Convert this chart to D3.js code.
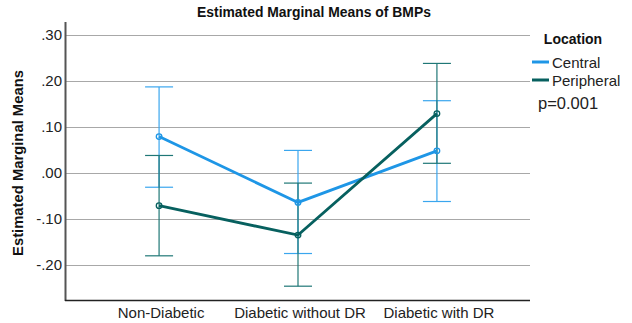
<!DOCTYPE html>
<html>
<head>
<meta charset="utf-8">
<script src="https://cdn.jsdelivr.net/npm/d3@7/dist/d3.min.js"></script>
<style>
  body { margin: 0; background: #fff; }
  svg { display: block; font-family: Arial, "Liberation Sans", sans-serif; }
</style>
</head>
<body>
<svg id="chart" width="632" height="323"></svg>
<script>
// Groups on the x axis
const groups = ["Non-Diabetic", "Diabetic without DR", "Diabetic with DR"];
// Series by location: estimated marginal means with 95% CI bounds
const seriesNames = ["Central", "Peripheral"];
const centralMean  = [0.079, -0.064, 0.048];
const centralLow   = [-0.031, -0.175, -0.062];
const centralHigh  = [0.187, 0.049, 0.157];
const periphMean   = [-0.071, -0.135, 0.129];
const periphLow    = [-0.180, -0.246, 0.021];
const periphHigh   = [0.038, -0.022, 0.238];
const yTicks = [-0.2, -0.1, 0.0, 0.1, 0.2, 0.3];
const yTickLabels = ["-.20", "-.10", ".00", ".10", ".20", ".30"];

const lineColors = ["#1e96e6", "#07605f"];
const barColors  = ["#3aa6ee", "#1f7776"];

const series = [
  { name: seriesNames[0], mean: centralMean, low: centralLow, high: centralHigh },
  { name: seriesNames[1], mean: periphMean, low: periphLow, high: periphHigh }
];

const svg = d3.select("#chart");
const plotLeft = 66, plotRight = 530, plotTop = 22, plotBottom = 300;

const x = d3.scalePoint().domain(groups).range([plotLeft, plotRight]).padding(0.67);
const y = d3.scaleLinear().domain([-0.276, 0.328]).range([plotBottom, plotTop]);

// horizontal gridlines
svg.append("g")
  .selectAll("line")
  .data(yTicks)
  .join("line")
  .attr("x1", plotLeft).attr("x2", plotRight)
  .attr("y1", d => Math.round(y(d)) + 0.5).attr("y2", d => Math.round(y(d)) + 0.5)
  .attr("stroke", "#a8a8a8").attr("stroke-width", 1);

// y axis
const yAxis = svg.append("g")
  .attr("transform", `translate(${plotLeft},0)`)
  .call(d3.axisLeft(y).tickValues(yTicks).tickFormat((d, i) => yTickLabels[i]).tickSize(0).tickPadding(4));
yAxis.select(".domain").remove();
yAxis.selectAll("text").attr("font-size", 15).attr("fill", "#222").attr("font-family", "Arial, 'Liberation Sans', sans-serif");

svg.append("line")
  .attr("x1", plotLeft - 0.5).attr("x2", plotLeft - 0.5).attr("y1", plotTop).attr("y2", plotBottom + 1)
  .attr("stroke", "#555").attr("stroke-width", 2);

// x axis
const xAxis = svg.append("g")
  .attr("transform", `translate(0,${plotBottom})`)
  .call(d3.axisBottom(x).tickSize(0).tickPadding(7));
xAxis.select(".domain").remove();
xAxis.selectAll("text").attr("font-size", 15).attr("fill", "#222").attr("font-family", "Arial, 'Liberation Sans', sans-serif")
  .attr("dx", 1.5);
svg.append("line")
  .attr("x1", plotLeft - 1).attr("x2", plotRight).attr("y1", plotBottom + 0.5).attr("y2", plotBottom + 0.5)
  .attr("stroke", "#222").attr("stroke-width", 1.5);

// error bars
const capHalf = 14;
series.forEach((s, si) => {
  const g = svg.append("g").attr("stroke", barColors[si]).attr("stroke-width", 1.2);
  groups.forEach((grp, i) => {
    const cx = x(grp);
    g.append("line").attr("x1", cx).attr("x2", cx).attr("y1", y(s.low[i])).attr("y2", y(s.high[i]));
    g.append("line").attr("x1", cx - capHalf).attr("x2", cx + capHalf).attr("y1", y(s.low[i])).attr("y2", y(s.low[i]));
    g.append("line").attr("x1", cx - capHalf).attr("x2", cx + capHalf).attr("y1", y(s.high[i])).attr("y2", y(s.high[i]));
  });
});

// mean lines and markers
const line = d3.line().x((d, i) => x(groups[i])).y(d => y(d));
series.forEach((s, si) => {
  svg.append("path")
    .attr("d", line(s.mean))
    .attr("fill", "none")
    .attr("stroke", lineColors[si])
    .attr("stroke-width", 2.8)
    .attr("stroke-linejoin", "miter");
  svg.append("g").selectAll("circle")
    .data(s.mean)
    .join("circle")
    .attr("cx", (d, i) => x(groups[i]))
    .attr("cy", d => y(d))
    .attr("r", 2.8)
    .attr("fill", "none")
    .attr("stroke", lineColors[si])
    .attr("stroke-width", 1.3);
});

// title
svg.append("text")
  .attr("x", 314).attr("y", 17)
  .attr("text-anchor", "middle")
  .attr("font-size", 13.9).attr("font-weight", "bold").attr("fill", "#111")
  .text("Estimated Marginal Means of BMPs");

// y axis title
svg.append("text")
  .attr("transform", "translate(23,163) rotate(-90)")
  .attr("text-anchor", "middle")
  .attr("font-size", 14.8).attr("font-weight", "bold").attr("fill", "#111")
  .text("Estimated Marginal Means");

// legend
const lg = svg.append("g");
lg.append("text").attr("x", 573).attr("y", 44).attr("text-anchor", "middle")
  .attr("font-size", 14).attr("font-weight", "bold").attr("fill", "#111").text("Location");
seriesNames.forEach((n, i) => {
  const ly = 62 + i * 18;
  lg.append("line").attr("x1", 532).attr("x2", 549).attr("y1", ly).attr("y2", ly)
    .attr("stroke", lineColors[i]).attr("stroke-width", 3);
  lg.append("text").attr("x", 552).attr("y", ly + 5.5).attr("font-size", 15).attr("fill", "#222").text(n);
});
lg.append("text").attr("x", 538).attr("y", 109).attr("font-size", 16.5).attr("fill", "#222").text("p=0.001");
</script>
</body>
</html>
